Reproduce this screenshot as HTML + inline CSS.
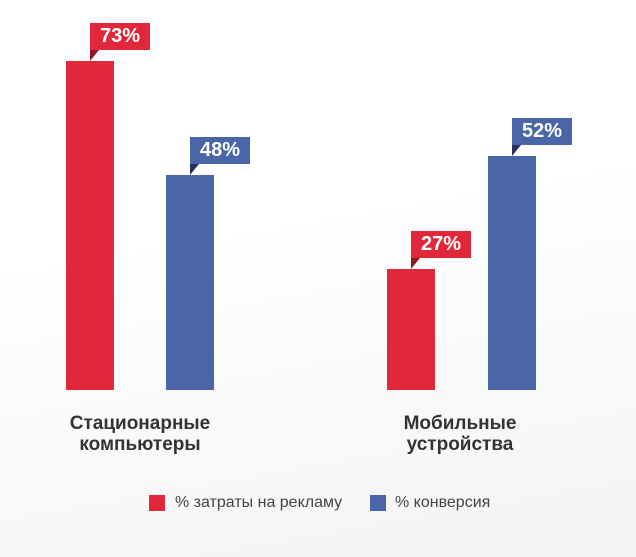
<!DOCTYPE html>
<html><head><meta charset="utf-8"><style>
body{margin:0;width:636px;height:557px;overflow:hidden;background:linear-gradient(170deg,#fff 0%,#fff 40%,#f3f3f4 100%);font-family:"Liberation Sans",sans-serif;position:relative}
.b{position:absolute;bottom:167px;width:48px}
.r{background:#e0283a}.u{background:#4a66a9}
.l{position:absolute;width:60px;height:27px;color:#fff;font-size:20px;font-weight:bold;text-align:center;line-height:27px}
.t{position:absolute;width:0;height:0;border-style:solid;border-width:11px 9px 0 0}
.cat{position:absolute;font-size:19px;font-weight:bold;color:#333;text-align:center;line-height:21px;width:220px}
.lg{position:absolute;top:495px;width:16px;height:16px}
.lt{position:absolute;top:494px;font-size:16px;color:#444}
</style></head><body>
<div class="b r" style="left:66px;top:61px"></div>
<div class="l r" style="left:90px;top:23px">73%</div>
<div class="t" style="left:90px;top:50px;border-color:#8a1a22 transparent transparent transparent"></div>
<div class="b u" style="left:166px;top:175px"></div>
<div class="l u" style="left:190px;top:137px">48%</div>
<div class="t" style="left:190px;top:164px;border-color:#23335a transparent transparent transparent"></div>
<div class="b r" style="left:387px;top:269px"></div>
<div class="l r" style="left:411px;top:231px">27%</div>
<div class="t" style="left:411px;top:258px;border-color:#8a1a22 transparent transparent transparent"></div>
<div class="b u" style="left:488px;top:156px"></div>
<div class="l u" style="left:512px;top:118px">52%</div>
<div class="t" style="left:512px;top:145px;border-color:#23335a transparent transparent transparent"></div>
<div class="cat" style="left:30px;top:413px">Стационарные<br>компьютеры</div>
<div class="cat" style="left:350px;top:413px">Мобильные<br>устройства</div>
<div class="lg r" style="left:149px"></div><div class="lt" style="left:175px">% затраты на рекламу</div>
<div class="lg u" style="left:370px"></div><div class="lt" style="left:395px">% конверсия</div>
</body></html>
